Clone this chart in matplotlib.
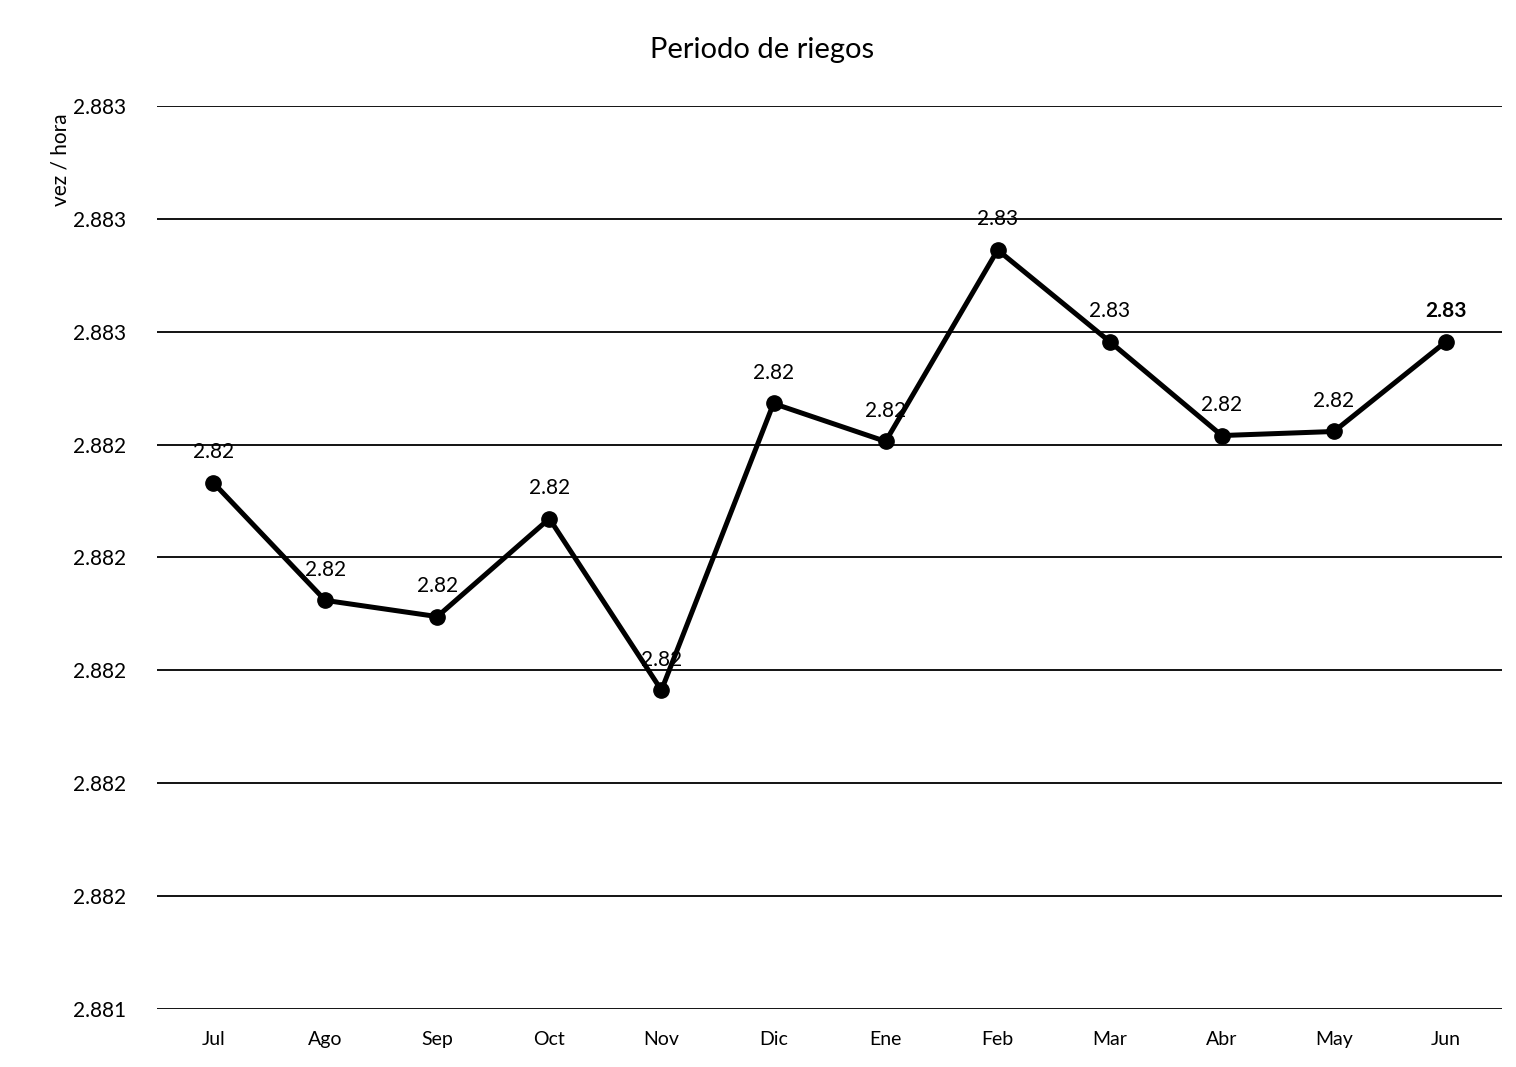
"""Periodo de riegos: monthly line chart with data labels."""

import matplotlib
matplotlib.use("Agg")
import matplotlib.pyplot as plt

plt.rcParams["font.family"] = ["Lato", "DejaVu Sans"]

MONTHS = ["Jul", "Ago", "Sep", "Oct", "Nov", "Dic", "Ene", "Feb", "Mar", "Abr", "May", "Jun"]
VALUES = [2.882166, 2.881905, 2.881869, 2.882086, 2.881706, 2.882341,
          2.882257, 2.882681, 2.882478, 2.882270, 2.882279, 2.882478]
POINT_LABELS = ["2.82", "2.82", "2.82", "2.82", "2.82", "2.82",
                "2.82", "2.83", "2.83", "2.82", "2.82", "2.83"]
Y_TICKS = [2.881, 2.88125, 2.8815, 2.88175, 2.882, 2.88225, 2.8825, 2.88275, 2.883]
Y_TICK_LABELS = ["2.881", "2.882", "2.882", "2.882", "2.882", "2.882", "2.883", "2.883", "2.883"]

fig = plt.figure(figsize=(15.16, 10.67), dpi=100)
ax = fig.add_axes([0.1036, 0.0544, 0.8872, 0.8463])

x = range(len(MONTHS))
ax.plot(x, VALUES, color="black", lw=3.6, marker="o", markersize=11, zorder=3)

for i, (v, lab) in enumerate(zip(VALUES, POINT_LABELS)):
    ax.annotate(lab, (i, v), xytext=(0, 22), textcoords="offset points",
                ha="center", va="center", fontsize=15,
                fontweight="bold" if i == len(VALUES) - 1 else "normal")

ax.set_xlim(-0.5, len(MONTHS) - 0.5)
ax.set_ylim(Y_TICKS[0], Y_TICKS[-1])
ax.set_yticks(Y_TICKS, Y_TICK_LABELS)
ax.set_xticks(list(x), MONTHS)
ax.tick_params(axis="y", length=0, pad=22, labelsize=15)
ax.tick_params(axis="x", length=0, pad=16, labelsize=14)
ax.grid(axis="y", color="black", lw=1.3)
ax.set_axisbelow(True)
for s in ax.spines.values():
    s.set_visible(False)

fig.text(0.040, 0.85, "vez / hora", rotation=90, ha="center", va="center", fontsize=15)
fig.suptitle("Periodo de riegos", x=0.503, y=0.953, va="center", fontsize=21)

fig.savefig("out.png")
